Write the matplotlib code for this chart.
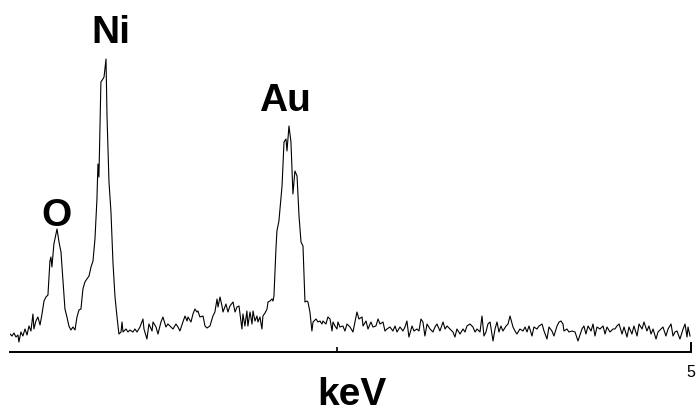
import matplotlib
matplotlib.use("Agg")
import matplotlib.pyplot as plt
from matplotlib.ticker import FixedLocator, NullFormatter

plt.rcParams['font.family'] = ['Liberation Sans', 'DejaVu Sans']

# Energy (keV) and intensity (arbitrary counts)
energy_kev = [
    0.191, 0.205, 0.219, 0.233, 0.247, 0.254, 0.268, 0.282, 0.297, 0.311,
    0.325, 0.339, 0.353, 0.360, 0.374, 0.388, 0.403, 0.417, 0.431, 0.445,
    0.459, 0.473, 0.480, 0.487, 0.501, 0.516, 0.523, 0.537, 0.551, 0.565,
    0.579, 0.593, 0.607, 0.621, 0.636, 0.650, 0.664, 0.678, 0.692, 0.706,
    0.720, 0.734, 0.749, 0.763, 0.777, 0.791, 0.805, 0.812, 0.819, 0.833,
    0.847, 0.855, 0.869, 0.876, 0.890, 0.904, 0.918, 0.932, 0.946, 0.960,
    0.975, 0.982, 0.989, 1.010, 1.024, 1.038, 1.059, 1.073, 1.088, 1.109,
    1.130, 1.137, 1.158, 1.172, 1.194, 1.201, 1.222, 1.236, 1.257, 1.271,
    1.292, 1.306, 1.328, 1.342, 1.363, 1.377, 1.391, 1.412, 1.427, 1.441,
    1.448, 1.469, 1.483, 1.497, 1.511, 1.518, 1.532, 1.554, 1.568, 1.582,
    1.603, 1.624, 1.638, 1.653, 1.660, 1.674, 1.688, 1.695, 1.716, 1.730,
    1.744, 1.766, 1.780, 1.794, 1.808, 1.829, 1.836, 1.850, 1.864, 1.871,
    1.886, 1.900, 1.907, 1.921, 1.935, 1.942, 1.956, 1.970, 1.977, 1.992,
    2.006, 2.013, 2.027, 2.041, 2.048, 2.055, 2.069, 2.076, 2.090, 2.112,
    2.126, 2.140, 2.147, 2.161, 2.175, 2.189, 2.203, 2.218, 2.232, 2.246,
    2.260, 2.274, 2.288, 2.295, 2.309, 2.323, 2.331, 2.352, 2.366, 2.380,
    2.394, 2.401, 2.422, 2.436, 2.451, 2.465, 2.472, 2.486, 2.500, 2.507,
    2.521, 2.542, 2.556, 2.571, 2.592, 2.613, 2.627, 2.641, 2.655, 2.677,
    2.684, 2.705, 2.719, 2.740, 2.754, 2.775, 2.790, 2.804, 2.825, 2.839,
    2.853, 2.874, 2.895, 2.910, 2.924, 2.945, 2.966, 2.980, 2.994, 3.008,
    3.030, 3.044, 3.065, 3.079, 3.093, 3.107, 3.121, 3.136, 3.157, 3.178,
    3.192, 3.206, 3.227, 3.249, 3.263, 3.277, 3.298, 3.319, 3.333, 3.347,
    3.369, 3.390, 3.404, 3.418, 3.439, 3.460, 3.475, 3.489, 3.510, 3.524,
    3.538, 3.552, 3.566, 3.581, 3.602, 3.616, 3.630, 3.644, 3.658, 3.672,
    3.694, 3.708, 3.722, 3.743, 3.757, 3.771, 3.792, 3.814, 3.828, 3.842,
    3.856, 3.877, 3.891, 3.912, 3.927, 3.948, 3.962, 3.983, 3.997, 4.018,
    4.032, 4.054, 4.068, 4.082, 4.096, 4.103, 4.124, 4.138, 4.160, 4.181,
    4.202, 4.230, 4.244, 4.258, 4.273, 4.294, 4.308, 4.322, 4.336, 4.357,
    4.379, 4.393, 4.407, 4.428, 4.449, 4.463, 4.477, 4.492, 4.513, 4.527,
    4.548, 4.562, 4.583, 4.597, 4.619, 4.633, 4.654, 4.668, 4.689, 4.703,
    4.718, 4.732, 4.753, 4.767, 4.788, 4.802, 4.823, 4.838, 4.859, 4.873,
    4.887, 4.901, 4.922, 4.944, 4.958, 4.972, 4.979, 4.993,
]

counts = [
    18, 16, 19, 15, 17, 10, 20, 16, 23, 17,
    26, 21, 38, 23, 31, 35, 27, 38, 51, 55,
    57, 91, 95, 85, 108, 118, 123, 110, 100, 71,
    43, 35, 26, 22, 25, 22, 35, 42, 43, 63,
    70, 73, 76, 85, 91, 113, 153, 188, 175, 270,
    273, 275, 293, 236, 170, 140, 90, 56, 36, 18,
    20, 30, 20, 23, 20, 22, 20, 23, 20, 25,
    33, 23, 13, 28, 21, 30, 25, 18, 30, 35,
    25, 28, 25, 23, 28, 25, 21, 30, 36, 31,
    35, 30, 38, 43, 40, 41, 35, 36, 26, 24,
    26, 36, 40, 53, 45, 55, 46, 40, 48, 40,
    46, 50, 40, 45, 46, 23, 38, 26, 41, 26,
    40, 28, 41, 31, 36, 30, 35, 23, 36, 39,
    43, 50, 51, 53, 51, 56, 103, 121, 131, 166,
    210, 213, 201, 226, 210, 158, 181, 176, 136, 110,
    106, 50, 51, 50, 40, 21, 30, 33, 30, 31,
    28, 31, 28, 35, 33, 21, 30, 26, 23, 30,
    25, 26, 21, 28, 25, 20, 30, 40, 33, 35,
    26, 31, 23, 30, 25, 26, 33, 28, 30, 21,
    23, 25, 21, 26, 20, 25, 21, 25, 31, 15,
    26, 21, 23, 21, 33, 30, 16, 28, 23, 20,
    25, 28, 21, 30, 23, 26, 23, 20, 15, 23,
    18, 23, 20, 26, 28, 25, 20, 23, 20, 36,
    16, 20, 28, 30, 11, 23, 30, 20, 26, 21,
    26, 28, 36, 25, 21, 18, 23, 21, 25, 20,
    26, 16, 25, 23, 26, 28, 21, 13, 25, 21,
    16, 26, 30, 31, 28, 21, 23, 20, 21, 20,
    11, 23, 26, 18, 26, 21, 28, 16, 25, 23,
    26, 18, 25, 20, 23, 23, 26, 28, 18, 25,
    15, 25, 18, 26, 16, 28, 23, 30, 21, 26,
    18, 23, 13, 20, 23, 25, 16, 23, 28, 16,
    20, 21, 13, 23, 28, 15, 25, 16,
]

peak_labels = ["O", "Ni", "Au"]
peak_energy = [0.516, 0.904, 2.133]
peak_label_height = [127, 310, 242]

x_min, x_max = 0.191, 5.0
tick_major = [5]
tick_minor = [2.5]

fig = plt.figure(figsize=(6.98, 4.14), dpi=100)
ax = fig.add_axes([10 / 698, 61 / 414, 681 / 698, 353 / 414])
ax.plot(energy_kev, counts, color='black', linewidth=0.8)
ax.set_xlim(x_min, x_max)
ax.set_ylim(0, 353)

for s in ['top', 'left', 'right']:
    ax.spines[s].set_visible(False)
ax.spines['bottom'].set_linewidth(1.4)
ax.set_yticks([])
ax.xaxis.set_major_locator(FixedLocator(tick_major))
ax.xaxis.set_minor_locator(FixedLocator(tick_minor))
ax.xaxis.set_minor_formatter(NullFormatter())
ax.tick_params(axis='x', which='major', direction='in', length=7, width=1.4,
               labelsize=11.5, pad=9)
ax.tick_params(axis='x', which='minor', direction='in', length=3.5, width=1.2)

for lab, e, h in zip(peak_labels, peak_energy, peak_label_height):
    ax.text(e, h, lab, ha='center', va='baseline', fontsize=28, fontweight='bold')

fig.text(352 / 698, 1 / 414, "keV", ha='center', va='bottom',
         fontsize=28, fontweight='bold')

fig.savefig("out.png", dpi=100)
